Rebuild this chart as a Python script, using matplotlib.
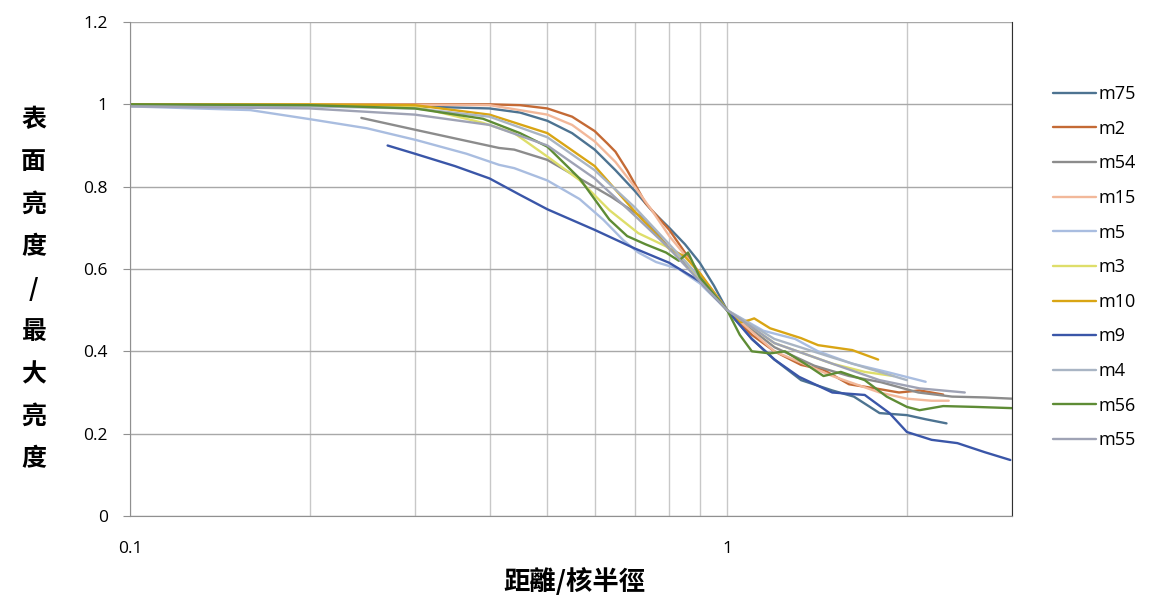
import numpy as np
import matplotlib
matplotlib.use("Agg")
import matplotlib.pyplot as plt
from matplotlib.ticker import FixedLocator, NullFormatter, FixedFormatter

# ---- data ----
names = ["m75", "m2", "m54", "m15", "m5", "m3", "m10", "m9", "m4", "m56", "m55"]
colors = ["#4d7391", "#c46a35", "#8c8c8c", "#f2b89a", "#a9bde0", "#dede6a",
          "#d9a514", "#3a56a8", "#a9b5c4", "#5e8c35", "#9fa3b5"]

x_m75 = [0.1, 0.2, 0.3, 0.4, 0.45, 0.5, 0.55, 0.6, 0.65, 0.7, 0.75, 0.8, 0.85, 0.9, 0.95, 1.0,
         1.1, 1.2, 1.33, 1.5, 1.63, 1.8, 2.0, 2.15, 2.33]
y_m75 = [1.0, 0.998, 0.995, 0.99, 0.98, 0.96, 0.93, 0.89, 0.84, 0.79, 0.74, 0.70, 0.66, 0.615, 0.56, 0.50,
         0.43, 0.38, 0.33, 0.305, 0.29, 0.25, 0.245, 0.235, 0.225]

x_m2 = [0.1, 0.2, 0.3, 0.4, 0.45, 0.5, 0.55, 0.6, 0.63, 0.65, 0.68, 0.73, 0.8, 0.85, 0.94, 1.0,
        1.1, 1.2, 1.33, 1.45, 1.6, 1.77, 1.94, 2.1, 2.3]
y_m2 = [1.0, 1.0, 1.0, 1.0, 0.998, 0.99, 0.97, 0.935, 0.905, 0.885, 0.84, 0.76, 0.695, 0.64, 0.55, 0.50,
        0.44, 0.40, 0.367, 0.355, 0.32, 0.31, 0.30, 0.305, 0.295]

x_m54 = [0.244, 0.303, 0.343, 0.415, 0.44, 0.5, 0.566, 0.64, 0.73, 0.8, 0.9, 1.0,
         1.2, 1.4, 1.6, 1.81, 2.09, 2.38, 2.7, 3.0]
y_m54 = [0.967, 0.937, 0.92, 0.894, 0.89, 0.865, 0.82, 0.775, 0.72, 0.65, 0.58, 0.50,
         0.41, 0.365, 0.34, 0.325, 0.30, 0.29, 0.288, 0.285]

x_m15 = [0.1, 0.2, 0.3, 0.4, 0.5, 0.55, 0.6, 0.65, 0.7, 0.75, 0.8, 0.9, 1.0,
         1.2, 1.5, 1.8, 2.0, 2.2, 2.35]
y_m15 = [1.0, 1.0, 0.999, 0.998, 0.975, 0.95, 0.91, 0.86, 0.80, 0.74, 0.68, 0.59, 0.50,
         0.40, 0.34, 0.30, 0.285, 0.28, 0.28]

x_m5 = [0.1, 0.159, 0.2, 0.249, 0.302, 0.366, 0.415, 0.44, 0.5, 0.566, 0.62, 0.67, 0.71, 0.76, 0.83, 0.9, 1.0,
        1.15, 1.3, 1.42, 1.62, 1.85, 2.15]
y_m5 = [0.995, 0.986, 0.964, 0.942, 0.913, 0.88, 0.853, 0.845, 0.815, 0.77, 0.72, 0.67, 0.64, 0.617, 0.60, 0.565, 0.50,
        0.45, 0.43, 0.40, 0.37, 0.35, 0.326]

x_m3 = [0.1, 0.2, 0.3, 0.39, 0.44, 0.5, 0.566, 0.635, 0.71, 0.79, 0.85, 0.9, 1.0,
        1.2, 1.5, 1.7, 1.9]
y_m3 = [1.0, 0.999, 0.995, 0.955, 0.93, 0.873, 0.816, 0.743, 0.687, 0.655, 0.62, 0.57, 0.50,
        0.42, 0.37, 0.35, 0.34]

x_m10 = [0.1, 0.2, 0.3, 0.4, 0.5, 0.6, 0.7, 0.8, 0.85, 0.9, 1.0,
         1.05, 1.09, 1.11, 1.18, 1.33, 1.42, 1.5, 1.62, 1.79]
y_m10 = [1.0, 1.0, 0.998, 0.975, 0.93, 0.85, 0.74, 0.65, 0.63, 0.59, 0.50,
         0.47, 0.476, 0.48, 0.456, 0.432, 0.415, 0.41, 0.403, 0.38]

x_m9 = [0.27, 0.3, 0.35, 0.4, 0.45, 0.5, 0.6, 0.7, 0.8, 0.9, 1.0,
        1.1, 1.2, 1.32, 1.5, 1.7, 1.87, 2.0, 2.2, 2.43, 2.7, 2.98]
y_m9 = [0.90, 0.88, 0.85, 0.82, 0.78, 0.745, 0.695, 0.65, 0.615, 0.57, 0.50,
        0.43, 0.38, 0.338, 0.30, 0.294, 0.25, 0.204, 0.185, 0.177, 0.155, 0.136]

x_m4 = [0.1, 0.2, 0.3, 0.4, 0.5, 0.6, 0.7, 0.8, 0.9, 1.0, 1.2, 1.5, 1.8, 2.0]
y_m4 = [0.998, 0.995, 0.99, 0.97, 0.92, 0.84, 0.75, 0.66, 0.58, 0.50, 0.43, 0.385, 0.35, 0.33]

x_m56 = [0.1, 0.2, 0.3, 0.39, 0.45, 0.5, 0.566, 0.635, 0.68, 0.73, 0.79, 0.83, 0.86, 0.9, 1.0,
         1.05, 1.1, 1.18, 1.25, 1.35, 1.45, 1.55, 1.7, 1.85, 2.0, 2.1, 2.3, 2.6, 3.0]
y_m56 = [1.0, 0.998, 0.99, 0.965, 0.93, 0.897, 0.82, 0.72, 0.68, 0.66, 0.64, 0.62, 0.64, 0.58, 0.50,
         0.44, 0.40, 0.395, 0.40, 0.37, 0.34, 0.35, 0.33, 0.29, 0.265, 0.257, 0.267, 0.265, 0.262]

x_m55 = [0.1, 0.2, 0.3, 0.4, 0.5, 0.6, 0.7, 0.8, 0.9, 1.0, 1.2, 1.5, 1.8, 2.1, 2.5]
y_m55 = [0.995, 0.99, 0.975, 0.95, 0.90, 0.82, 0.73, 0.65, 0.57, 0.50, 0.42, 0.37, 0.33, 0.31, 0.30]

xs = [x_m75, x_m2, x_m54, x_m15, x_m5, x_m3, x_m10, x_m9, x_m4, x_m56, x_m55]
ys = [y_m75, y_m2, y_m54, y_m15, y_m5, y_m3, y_m10, y_m9, y_m4, y_m56, y_m55]

y_ticks = [0, 0.2, 0.4, 0.6, 0.8, 1.0, 1.2]
y_ticklabels = ["0", "0.2", "0.4", "0.6", "0.8", "1", "1.2"]
x_major = [0.1, 1]
x_minor = [0.2, 0.3, 0.4, 0.5, 0.6, 0.7, 0.8, 0.9, 2, 3]

# ---- plotting ----
plt.rcParams["font.family"] = ["Open Sans", "DejaVu Sans"]

fig = plt.figure(figsize=(11.61, 6.03), dpi=100)
ax = fig.add_axes([0.112, 0.1443, 0.7597, 0.8192])

for x, y, c, n in zip(xs, ys, colors, names):
    ax.plot(x, y, color=c, lw=1.7, label=n, solid_capstyle="round", solid_joinstyle="round")

ax.set_xscale("log")
ax.set_xlim(0.1, 3)
ax.set_ylim(0, 1.2)

ax.xaxis.set_major_locator(FixedLocator(x_major))
ax.xaxis.set_major_formatter(FixedFormatter(["0.1", "1"]))
ax.xaxis.set_minor_locator(FixedLocator(x_minor))
ax.xaxis.set_minor_formatter(NullFormatter())
ax.set_yticks(y_ticks)
ax.set_yticklabels(y_ticklabels)

ax.grid(True, which="both", axis="x", color="#c8c8c8", lw=1.0)
ax.grid(True, which="major", axis="y", color="#a8a8a8", lw=1.0)
ax.set_axisbelow(True)

ax.spines["top"].set_visible(False)
ax.spines["left"].set_color("#909090")
ax.spines["bottom"].set_color("#909090")
ax.spines["right"].set_color("#303030")

ax.tick_params(axis="y", which="major", length=5, color="#909090", labelsize=12.5, pad=11)
ax.tick_params(axis="x", which="major", length=0, labelsize=12.5, pad=18)
ax.tick_params(axis="x", which="minor", length=0)

leg = ax.legend(loc="upper left", bbox_to_anchor=(1.028, 0.905), frameon=False,
                fontsize=13, handlelength=2.4, handletextpad=0.1, labelspacing=0.92)

cjk = ["Noto Sans CJK TC", "DejaVu Sans"]
fig.text(0.029, 0.52, "表\n面\n亮\n度\n/\n最\n大\n亮\n度", family=cjk, fontsize=18,
         fontweight="bold", ha="center", va="center", linespacing=1.97)
fig.text(0.495, 0.035, "距離/核半徑", family=cjk, fontsize=19, fontweight="bold",
         ha="center", va="center")

fig.savefig("out.png", dpi=100)
